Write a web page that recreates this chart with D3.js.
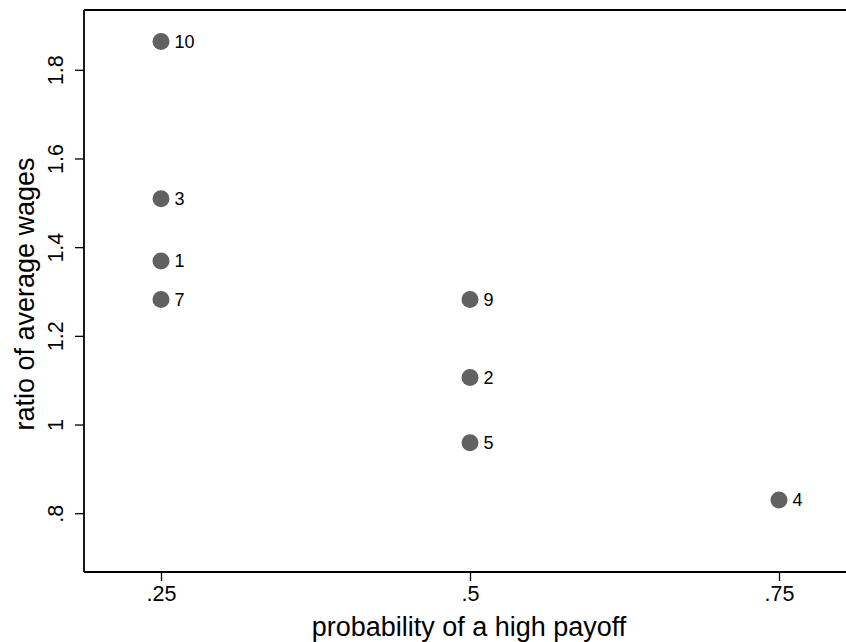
<!DOCTYPE html>
<html><head><meta charset="utf-8">
<script src="https://cdn.jsdelivr.net/npm/d3@7"></script>
<style>body{margin:0;background:#fff}svg{display:block}text{font-family:"Liberation Sans",Arial,sans-serif}</style>
</head><body>
<svg id="c" width="846" height="642"></svg>
<script>
const labels = ["1","2","3","4","5","7","9","10"];
const probs  = [0.25, 0.5, 0.25, 0.75, 0.5, 0.25, 0.5, 0.25];
const ratios = [1.369, 1.106, 1.509, 0.830, 0.959, 1.282, 1.282, 1.864];
const xTicks = [0.25, 0.5, 0.75];
const xTickLabels = [".25", ".5", ".75"];
const yTicks = [0.8, 1.0, 1.2, 1.4, 1.6, 1.8];
const yTickLabels = [".8", "1", "1.2", "1.4", "1.6", "1.8"];

const svg = d3.select("#c");
const L = 84, T = 10, R = 846, B = 572;
const x = d3.scaleLinear().domain([0.25, 0.75]).range([161, 779]);
const y = d3.scaleLinear().domain([0.8, 1.8]).range([513.2, 69.8]);

svg.append("line").attr("x1", L).attr("x2", R).attr("y1", T).attr("y2", T)
  .attr("stroke", "#000").attr("stroke-width", 1.8);

const xAxis = svg.append("g").attr("transform", `translate(0,${B})`)
  .call(d3.axisBottom(x).tickValues(xTicks).tickFormat((d,i)=>xTickLabels[i]).tickSize(9).tickPadding(5));
xAxis.select(".domain").remove();
xAxis.append("line").attr("x1", L).attr("x2", R).attr("stroke", "#000").attr("stroke-width", 1.8);
xAxis.selectAll(".tick line").attr("stroke", "#000").attr("stroke-width", 1.3);
xAxis.selectAll(".tick text").attr("font-size", 21.5).attr("fill", "#000")
  .attr("font-family", '"Liberation Sans",Arial,sans-serif');

const yAxis = svg.append("g").attr("transform", `translate(${L},0)`)
  .call(d3.axisLeft(y).tickValues(yTicks).tickFormat((d,i)=>yTickLabels[i]).tickSize(9).tickPadding(0));
yAxis.select(".domain").remove();
yAxis.append("line").attr("y1", T).attr("y2", B).attr("stroke", "#000").attr("stroke-width", 1.8);
yAxis.selectAll(".tick line").attr("stroke", "#000").attr("stroke-width", 1.3);
yAxis.selectAll(".tick text").attr("font-size", 21.5).attr("fill", "#000")
  .attr("font-family", '"Liberation Sans",Arial,sans-serif')
  .attr("x", null).attr("dy", null)
  .attr("text-anchor", "middle")
  .attr("transform", "translate(-21,0) rotate(-90)");

svg.append("text").attr("x", 469).attr("y", 636)
  .attr("text-anchor", "middle").attr("font-size", 27).text("probability of a high payoff");
svg.append("text").attr("transform", `translate(34,294) rotate(-90)`)
  .attr("text-anchor", "middle").attr("font-size", 27).text("ratio of average wages");

const pts = svg.append("g");
labels.forEach((lab, i) => {
  pts.append("circle").attr("cx", x(probs[i])).attr("cy", y(ratios[i])).attr("r", 8.5).attr("fill", "#616161");
  pts.append("text").attr("x", x(probs[i]) + 13.5).attr("y", y(ratios[i]))
    .attr("dy", "0.36em").attr("font-size", 18).attr("fill", "#000").text(lab);
});
</script>
</body></html>
